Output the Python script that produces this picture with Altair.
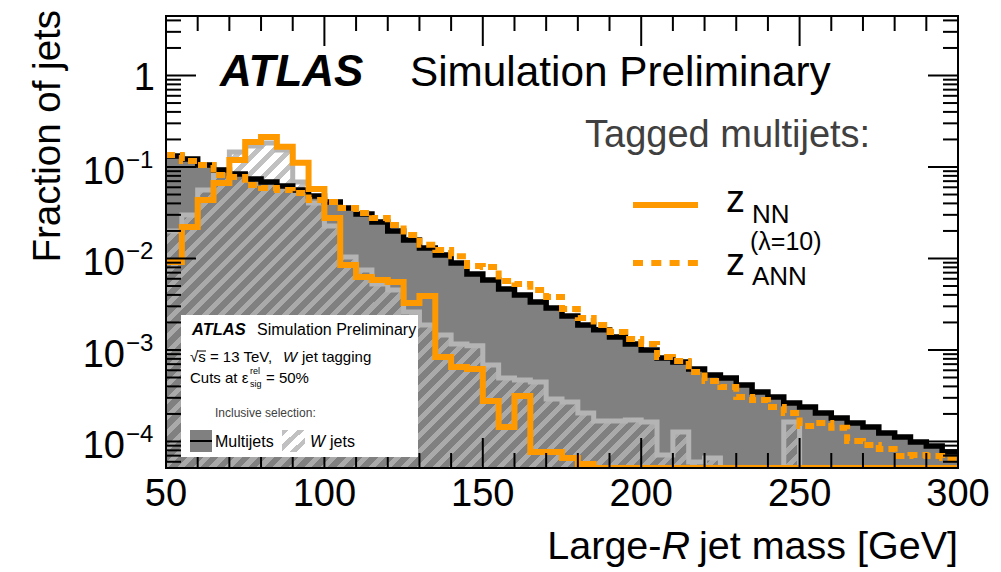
import altair as alt
import pandas as pd
import math

FONT = "Liberation Sans"
W, H = 792, 452
YMIN, YMAX = 5.13e-5, 4.47
ORANGE = "#ff9900"

# ---------------- data (fraction of jets per 5 GeV bin, 50-300 GeV) ----------------
mass_edges = list(range(50, 305, 5))

multijets = [0.132, 0.122, 0.105, 0.0927, 0.0838, 0.0739, 0.0686, 0.0620, 0.0561, 0.0482,
             0.0414, 0.0356, 0.0306, 0.0251, 0.0200, 0.0159, 0.0130, 0.0109, 0.00893, 0.00678,
             0.00582, 0.00465, 0.00399, 0.00335, 0.00288, 0.00235, 0.00188, 0.00166, 0.00139, 0.00116,
             0.00100, 0.000818, 0.000740, 0.000620, 0.000533, 0.000494, 0.000414, 0.000347, 0.000306, 0.000264,
             0.000238, 0.000205, 0.000181, 0.000159, 0.000144, 0.000124, 0.000112, 0.0000988, 0.0000893, 0.0000768]

wjets = [0.0200, 0.0299, 0.0561, 0.0927, 0.146, 0.170, 0.183, 0.153, 0.0686, 0.0404,
         0.0226, 0.0104, 0.00749, 0.00526, 0.00453, 0.00260, 0.00188, 0.00146, 0.00116, 0.00111,
         0.000686, 0.000494, 0.000470, 0.000447, 0.000291, 0.000270, 0.000205, 0.000167, 0.000167, 0.000172,
         0.000163, 0.0000712, 0.000127, 0.0000597, 0.0000661, 0, 0, 0, 0, 0.000163,
         0, 0, 0, 0, 0, 0, 0, 0, 0, 0]

z_nn = [0.00916, 0.0221, 0.0436, 0.0668, 0.119, 0.188, 0.213, 0.166, 0.111, 0.0575,
        0.0277, 0.00850, 0.00628, 0.00582, 0.00553, 0.00326, 0.00389, 0.000838, 0.000651, 0.000620,
        0.000277, 0.000144, 0.000314, 0.0000768, 0.0000768, 0.0000661, 0.0000568, 0, 0, 0,
        0, 0, 0, 0, 0, 0, 0, 0, 0, 0,
        0, 0, 0, 0, 0, 0, 0, 0, 0, 0]

z_ann = [0.135, 0.116, 0.105, 0.0818, 0.0778, 0.0636, 0.0589, 0.0561, 0.0520, 0.0436,
         0.0414, 0.0356, 0.0314, 0.0277, 0.0232, 0.0181, 0.0141, 0.0124, 0.0106, 0.00828,
         0.00807, 0.00568, 0.00526, 0.00453, 0.00379, 0.00281, 0.00224, 0.00188, 0.00157, 0.00132,
         0.00116, 0.000838, 0.000759, 0.000575, 0.000458, 0.000394, 0.000306, 0.000284, 0.000238, 0.000205,
         0.000148, 0.000159, 0.000141, 0.000101, 0.0000916, 0.0000828, 0.0000695, 0.0000712, 0.0000695, 0.0000661]

x_major = [50, 100, 150, 200, 250, 300]
x_tick_labels = ["50", "100", "150", "200", "250", "300"]
x_minor = [m for m in range(60, 300, 10) if m % 50 != 0]
y_major = [1e-4, 1e-3, 1e-2, 1e-1]
y_major_exp = ["\u22124", "\u22123", "\u22122", "\u22121"]
y_one = [1.0]
y_minor = [k * 10.0 ** e for e in range(-5, 1) for k in range(2, 10)
           if YMIN <= k * 10.0 ** e <= YMAX]

XS = alt.Scale(domain=[50, 300], nice=False, zero=False)
YS = alt.Scale(type="log", domain=[YMIN, YMAX], clamp=True, nice=False)
dummy = pd.DataFrame({"a": [0]})


def step_frame(vals):
    ys = [v if v > 0 else YMIN * 1e-3 for v in vals]
    return pd.DataFrame({"m": mass_edges, "v": ys + [ys[-1]]})


def X(f="m"):
    return alt.X(f"{f}:Q", scale=XS, axis=None)


def Y(f="v"):
    return alt.Y(f"{f}:Q", scale=YS, axis=None)


def hatch(x2, y2, n, on="rgba(179,179,179,0.82)", off="rgba(179,179,179,0)", frac=0.45):
    stops = []
    for k in range(n):
        a, b, c = k / n, (k + frac) / n, (k + 1) / n
        stops += [{"offset": round(a, 6), "color": on}, {"offset": round(b, 6), "color": on},
                  {"offset": round(b, 6), "color": off}, {"offset": round(min(c, 1), 6), "color": off}]
    return {"gradient": "linear", "x1": 0, "y1": 0, "x2": x2, "y2": y2, "stops": stops}


ypix_top = H * (math.log10(YMAX) - math.log10(max(wjets))) / (math.log10(YMAX) - math.log10(YMIN))
bb_h = H - ypix_top
r = bb_h / W
c = (1 + r) / (1 + r * r)
w_grad = hatch(round(c, 4), round(c * r, 4), int(round((W + bb_h) / 16)))


def txt(s, x, y, size, align="left", color="black", style="normal", weight="normal", angle=0):
    return alt.Chart(dummy).mark_text(
        align=align, baseline="alphabetic", font=FONT, fontSize=size, color=color,
        fontStyle=style, fontWeight=weight, angle=angle
    ).encode(x=alt.value(x), y=alt.value(y), text=alt.value(s))


layers = []
# multijets inclusive fill
layers.append(alt.Chart(step_frame(multijets)).mark_area(
    interpolate="step-after", color="#808080", opacity=1, clip=True
).encode(x=X(), y=Y(), y2=alt.value(H)))
# W jets hatch
layers.append(alt.Chart(step_frame(wjets)).mark_area(
    interpolate="step-after", fill=w_grad, opacity=1, clip=True
).encode(x=X(), y=Y(), y2=alt.value(H)))
# W jets outline
layers.append(alt.Chart(step_frame(wjets)).mark_line(
    interpolate="step-after", color="#b4b4b4", strokeWidth=5, clip=True
).encode(x=X(), y=Y()))
# multijets outline
layers.append(alt.Chart(step_frame(multijets)).mark_line(
    interpolate="step-after", color="black", strokeWidth=5.5, clip=True
).encode(x=X(), y=Y()))
# z_ANN dashed
layers.append(alt.Chart(step_frame(z_ann)).mark_line(
    interpolate="step-after", color=ORANGE, strokeWidth=6, strokeDash=[9, 5], clip=True
).encode(x=X(), y=Y()))
# z_NN solid
layers.append(alt.Chart(step_frame(z_nn)).mark_line(
    interpolate="step-after", color=ORANGE, strokeWidth=6, clip=True
).encode(x=X(), y=Y()))


# ticks (inside the frame, all four sides)
def xrules(vals, y0, y1):
    return alt.Chart(pd.DataFrame({"m": vals})).mark_rule(color="black", strokeWidth=2).encode(
        x=X(), y=alt.value(y0), y2=alt.value(y1))


def yrules(vals, x0, x1):
    return alt.Chart(pd.DataFrame({"v": vals})).mark_rule(color="black", strokeWidth=2).encode(
        y=Y(), x=alt.value(x0), x2=alt.value(x1))


layers += [xrules(x_major, H, H - 30), xrules(x_major, 0, 30),
           xrules(x_minor, H, H - 15), xrules(x_minor, 0, 15),
           yrules(y_major + y_one, 0, 30), yrules(y_major + y_one, W, W - 30),
           yrules(y_minor, 0, 15), yrules(y_minor, W, W - 15)]

# frame
layers.append(alt.Chart(dummy).mark_rect(fillOpacity=0, stroke="black", strokeWidth=2).encode(
    x=alt.value(0), x2=alt.value(W), y=alt.value(0), y2=alt.value(H)))

# x tick labels
layers.append(alt.Chart(pd.DataFrame({"m": x_major, "t": x_tick_labels})).mark_text(
    align="center", baseline="alphabetic", font=FONT, fontSize=38
).encode(x=X(), y=alt.value(H + 38), text="t:N"))
# y tick labels
layers.append(alt.Chart(pd.DataFrame({"v": y_major})).mark_text(
    align="right", baseline="alphabetic", font=FONT, fontSize=38, dy=17
).encode(y=Y(), x=alt.value(-41), text=alt.value("10")))
layers.append(alt.Chart(pd.DataFrame({"v": y_major, "e": y_major_exp})).mark_text(
    align="left", baseline="alphabetic", font=FONT, fontSize=24, dy=1
).encode(y=Y(), x=alt.value(-40), text="e:N"))
layers.append(alt.Chart(pd.DataFrame({"v": y_one})).mark_text(
    align="right", baseline="alphabetic", font=FONT, fontSize=38, dy=15
).encode(y=Y(), x=alt.value(-11), text=alt.value("1")))

# axis titles
layers.append(txt("Fraction of jets", -106, -6, 38.5, align="right", angle=270))
layers.append(txt("jet mass [GeV]", 792, 543, 39.5, align="right"))
layers.append(txt("R", 524, 543, 39.5, align="right", style="italic"))
layers.append(txt("Large-", 495.5, 543, 39.5, align="right"))

# top label
layers.append(txt("ATLAS", 54, 70, 44, style="italic", weight="bold"))
layers.append(txt("Simulation Preliminary", 244, 70, 42.3))

# right legend
layers.append(txt("Tagged multijets:", 419, 131, 38, color="#404040"))
layers.append(alt.Chart(dummy).mark_rule(color=ORANGE, strokeWidth=6).encode(
    x=alt.value(467), x2=alt.value(532), y=alt.value(189)))
layers.append(alt.Chart(dummy).mark_rule(color=ORANGE, strokeWidth=6, strokeDash=[10, 8.3]).encode(
    x=alt.value(467), x2=alt.value(532), y=alt.value(247)))
layers.append(txt("z", 560, 196, 38))
layers.append(txt("NN", 586, 207, 26))
layers.append(txt("(\u03bb=10)", 584, 234, 25))
layers.append(txt("z", 560, 259, 38))
layers.append(txt("ANN", 586, 269, 26))

# inner legend box
layers.append(alt.Chart(dummy).mark_rect(color="white").encode(
    x=alt.value(15), x2=alt.value(252), y=alt.value(299), y2=alt.value(441)))
layers.append(txt("ATLAS", 26, 319, 16.5, style="italic", weight="bold"))
layers.append(txt("Simulation Preliminary", 91, 319, 16))
layers.append(txt("\u221as = 13 TeV,", 24, 346, 15))
layers.append(alt.Chart(dummy).mark_rule(color="black", strokeWidth=1).encode(
    x=alt.value(31.5), x2=alt.value(40), y=alt.value(335)))
layers.append(txt("W", 117, 346, 15, style="italic"))
layers.append(txt("jet tagging", 136, 346, 15))
layers.append(txt("Cuts at \u03b5", 24, 367, 15))
layers.append(txt("rel", 84, 358, 9))
layers.append(txt("sig", 84, 371, 9))
layers.append(txt("= 50%", 100, 367, 15))
layers.append(txt("Inclusive selection:", 49, 401, 12, color="#404040"))
layers.append(alt.Chart(dummy).mark_rect(color="#808080").encode(
    x=alt.value(24), x2=alt.value(46), y=alt.value(414), y2=alt.value(436)))
layers.append(alt.Chart(dummy).mark_rule(color="black", strokeWidth=2).encode(
    x=alt.value(24), x2=alt.value(46), y=alt.value(425)))
layers.append(txt("Multijets", 49, 431, 16))
layers.append(alt.Chart(dummy).mark_rect(fill=hatch(1, 1, 3), opacity=1).encode(
    x=alt.value(116), x2=alt.value(139), y=alt.value(414), y2=alt.value(436)))
layers.append(txt("W", 144, 431, 16, style="italic"))
layers.append(txt("jets", 164, 431, 16))

chart = alt.layer(*layers).properties(
    width=W, height=H,
    padding={"left": 166, "top": 16, "right": 43, "bottom": 104},
    autosize=alt.AutoSizeParams(type="none"),
    background="white",
).configure_view(strokeWidth=0)

chart.save("out.html", embed_options={"renderer": "svg", "actions": False})
